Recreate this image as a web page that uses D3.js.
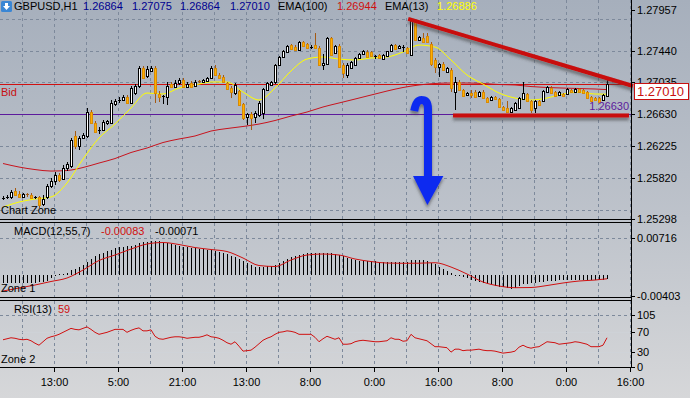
<!DOCTYPE html>
<html>
<head>
<meta charset="utf-8">
<script src="https://cdn.jsdelivr.net/npm/d3@7"></script>
<style>
  html, body { margin: 0; padding: 0; background: #c2c6cd; }
  svg { display: block; font-family: "Liberation Sans", Arial, sans-serif; }
  .crisp { shape-rendering: crispEdges; }
</style>
</head>
<body>
<div id="chart"></div>
<script>
// GBPUSD H1 candles
const open = [
  1.25552,1.25565,1.25578,1.25654,1.25616,1.25578,1.25616,1.25603,1.25565,1.25578,
  1.25489,1.25578,1.25718,1.25781,1.25857,1.25807,1.25947,1.25972,1.26354,1.26226,
  1.26328,1.26354,1.26659,1.26519,1.26417,1.26430,1.26519,1.26519,1.26761,1.26799,
  1.26812,1.26850,1.26774,1.26901,1.26990,1.27219,1.27117,1.27181,1.27219,1.26888,
  1.26850,1.26850,1.27015,1.26977,1.27028,1.27066,1.26977,1.27028,1.26990,1.27053,
  1.27041,1.27053,1.27092,1.27219,1.27130,1.27104,1.27028,1.26964,1.26901,1.26926,
  1.26761,1.26595,1.26634,1.26595,1.26621,1.26646,1.26939,1.27003,1.27041,1.27257,
  1.27359,1.27422,1.27511,1.27486,1.27448,1.27550,1.27524,1.27473,1.27511,1.27473,
  1.27257,1.27270,1.27601,1.27410,1.27499,1.27257,1.27130,1.27219,1.27257,1.27346,
  1.27397,1.27422,1.27422,1.27359,1.27384,1.27333,1.27372,1.27435,1.27511,1.27473,
  1.27473,1.27473,1.27384,1.27804,1.27575,1.27601,1.27626,1.27524,1.27321,1.27232,
  1.27270,1.27168,1.27193,1.26913,1.27041,1.26939,1.26875,1.26901,1.26913,1.26863,
  1.26913,1.26837,1.26812,1.26850,1.26824,1.26723,1.26710,1.26659,1.26684,1.26710,
  1.26824,1.26888,1.26799,1.26710,1.26799,1.26799,1.26913,1.26964,1.26913,1.26875,
  1.26888,1.26888,1.26939,1.26913,1.26952,1.26939,1.26913,1.26850,1.26837,1.26837,
  1.26812,1.26864
];
const high = [
  1.25590,1.25603,1.25667,1.25692,1.25654,1.25628,1.25628,1.25628,1.25590,1.25590,
  1.25603,1.25743,1.25819,1.25896,1.25883,1.25985,1.26023,1.26328,1.26417,1.26354,
  1.26392,1.26710,1.26684,1.26545,1.26468,1.26557,1.26557,1.26812,1.26824,1.26850,
  1.26875,1.26875,1.26990,1.27015,1.27244,1.27244,1.27244,1.27244,1.27244,1.26926,
  1.26875,1.27041,1.27041,1.27066,1.27092,1.27092,1.27041,1.27053,1.27066,1.27066,
  1.27079,1.27104,1.27244,1.27257,1.27155,1.27130,1.27041,1.26990,1.27028,1.26939,
  1.26774,1.26646,1.26659,1.26672,1.26799,1.26964,1.27041,1.27053,1.27270,1.27372,
  1.27448,1.27511,1.27524,1.27511,1.27562,1.27562,1.27537,1.27511,1.27664,1.27499,
  1.27397,1.27613,1.27613,1.27511,1.27524,1.27282,1.27282,1.27308,1.27359,1.27410,
  1.27448,1.27448,1.27435,1.27384,1.27397,1.27397,1.27435,1.27524,1.27524,1.27511,
  1.27511,1.27486,1.27855,1.27830,1.27626,1.27664,1.27664,1.27550,1.27346,1.27282,
  1.27295,1.27232,1.27219,1.27104,1.27066,1.26952,1.26913,1.26939,1.26939,1.26926,
  1.26939,1.26850,1.26863,1.26863,1.26837,1.26735,1.26799,1.26723,1.26786,1.26850,
  1.27041,1.26901,1.26812,1.26812,1.26812,1.26939,1.26990,1.26990,1.26926,1.26926,
  1.26901,1.26964,1.26952,1.26964,1.26964,1.26952,1.26926,1.26863,1.26850,1.26850,
  1.26888,1.27075
];
const low = [
  1.25539,1.25552,1.25552,1.25590,1.25565,1.25565,1.25578,1.25552,1.25552,1.25438,
  1.25463,1.25552,1.25692,1.25730,1.25768,1.25794,1.25908,1.25947,1.26188,1.26176,
  1.26316,1.26328,1.26506,1.26392,1.26379,1.26417,1.26494,1.26506,1.26735,1.26774,
  1.26799,1.26761,1.26761,1.26875,1.26964,1.27079,1.27092,1.27168,1.26774,1.26786,
  1.26761,1.26748,1.26964,1.26964,1.27003,1.26964,1.26964,1.26964,1.26977,1.27028,
  1.27028,1.27041,1.27079,1.27117,1.27079,1.27028,1.26939,1.26837,1.26875,1.26735,
  1.26557,1.26494,1.26430,1.26519,1.26595,1.26570,1.26926,1.26990,1.27015,1.27244,
  1.27346,1.27410,1.27448,1.27435,1.27435,1.27486,1.27461,1.27461,1.27461,1.27244,
  1.27193,1.27257,1.27372,1.27397,1.27219,1.27092,1.27092,1.27206,1.27244,1.27333,
  1.27384,1.27346,1.27359,1.27333,1.27333,1.27321,1.27359,1.27422,1.27448,1.27461,
  1.27422,1.27397,1.27372,1.27562,1.27562,1.27537,1.27537,1.27244,1.27155,1.27104,
  1.27181,1.27155,1.26913,1.26684,1.26926,1.26850,1.26863,1.26837,1.26837,1.26850,
  1.26824,1.26774,1.26799,1.26812,1.26710,1.26672,1.26646,1.26646,1.26672,1.26697,
  1.26812,1.26786,1.26646,1.26646,1.26735,1.26786,1.26901,1.26888,1.26850,1.26863,
  1.26850,1.26875,1.26901,1.26901,1.26901,1.26888,1.26824,1.26786,1.26799,1.26774,
  1.26799,1.26864
];
const close = [
  1.25565,1.25578,1.25641,1.25603,1.25578,1.25616,1.25603,1.25565,1.25578,1.25476,
  1.25552,1.25718,1.25781,1.25857,1.25794,1.25947,1.25997,1.26303,1.26226,1.26328,
  1.26366,1.26659,1.26519,1.26405,1.26430,1.26532,1.26545,1.26774,1.26799,1.26812,
  1.26850,1.26774,1.26964,1.26990,1.27219,1.27092,1.27206,1.27219,1.26901,1.26850,
  1.26863,1.26990,1.26977,1.27028,1.27066,1.26977,1.27015,1.26977,1.27041,1.27041,
  1.27066,1.27092,1.27219,1.27130,1.27092,1.27041,1.26952,1.26913,1.27003,1.26748,
  1.26583,1.26634,1.26583,1.26646,1.26774,1.26952,1.27028,1.27041,1.27257,1.27359,
  1.27435,1.27499,1.27461,1.27448,1.27550,1.27499,1.27473,1.27486,1.27473,1.27257,
  1.27282,1.27601,1.27384,1.27499,1.27232,1.27155,1.27257,1.27295,1.27346,1.27397,
  1.27435,1.27359,1.27372,1.27372,1.27346,1.27384,1.27435,1.27511,1.27461,1.27499,
  1.27486,1.27410,1.27830,1.27575,1.27613,1.27550,1.27550,1.27270,1.27232,1.27270,
  1.27193,1.27219,1.26964,1.27041,1.26939,1.26863,1.26901,1.26875,1.26850,1.26913,
  1.26837,1.26786,1.26850,1.26824,1.26723,1.26684,1.26659,1.26710,1.26774,1.26837,
  1.26901,1.26799,1.26684,1.26799,1.26748,1.26926,1.26977,1.26901,1.26863,1.26913,
  1.26863,1.26952,1.26913,1.26952,1.26913,1.26901,1.26837,1.26799,1.26812,1.26786,
  1.26875,1.27010
];

// indicator readings, sampled every 4 bars
const sampleIdx = [0,4,8,12,16,20,24,28,32,36,40,44,48,52,56,60,64,68,72,76,
  80,84,88,92,96,100,104,108,112,116,120,124,128,132,136,140,144,148,151];
const ema100 = [1.26004,1.25959,1.25927,1.25908,1.25915,1.25953,1.26010,1.26067,1.26144,1.26201,
  1.26271,1.26316,1.26354,1.26417,1.26449,1.26475,1.26506,1.26551,1.26608,1.26659,
  1.26723,1.26774,1.26824,1.26875,1.26926,1.26971,1.27003,1.27022,1.27028,1.27028,
  1.27022,1.27009,1.27003,1.26983,1.26971,1.26964,1.26958,1.26952,1.26944];
const ema13 = [1.25450,1.25514,1.25552,1.25578,1.25756,1.26061,1.26328,1.26506,1.26710,1.26901,
  1.26888,1.26964,1.27003,1.27041,1.27041,1.26913,1.26812,1.26964,1.27181,1.27333,
  1.27359,1.27333,1.27321,1.27346,1.27359,1.27422,1.27511,1.27486,1.27321,1.27130,
  1.27015,1.26901,1.26837,1.26812,1.26837,1.26888,1.26913,1.26888,1.26886];
const macdSignal = [-0.00307,-0.00249,-0.00191,-0.00123,-0.00056,0.00098,0.00282,0.00388,0.00503,0.00600,
  0.00629,0.00590,0.00532,0.00494,0.00455,0.00330,0.00185,0.00166,0.00291,0.00388,
  0.00407,0.00388,0.00311,0.00262,0.00233,0.00228,0.00230,0.00239,0.00156,0.00021,
  -0.00133,-0.00210,-0.00243,-0.00239,-0.00201,-0.00152,-0.00114,-0.00095,-0.00071];

// MACD main (histogram), one per bar
const macdMain = [
  -0.00152,-0.00153,-0.00154,-0.00154,-0.00152,-0.00150,-0.00148,-0.00147,-0.00145,-0.00140,
  -0.00130,-0.00110,-0.00050,0.00010,0.00020,0.00030,0.00040,0.00090,0.00120,0.00160,
  0.00200,0.00260,0.00310,0.00360,0.00400,0.00430,0.00460,0.00490,0.00520,0.00540,
  0.00550,0.00560,0.00570,0.00590,0.00610,0.00630,0.00640,0.00660,0.00660,0.00650,
  0.00630,0.00620,0.00600,0.00580,0.00560,0.00550,0.00540,0.00530,0.00520,0.00510,
  0.00500,0.00490,0.00480,0.00470,0.00450,0.00430,0.00400,0.00370,0.00340,0.00310,
  0.00270,0.00230,0.00190,0.00160,0.00150,0.00160,0.00170,0.00180,0.00200,0.00240,
  0.00280,0.00320,0.00340,0.00370,0.00390,0.00410,0.00420,0.00420,0.00430,0.00420,
  0.00420,0.00430,0.00420,0.00400,0.00390,0.00360,0.00330,0.00310,0.00290,0.00280,
  0.00280,0.00280,0.00280,0.00270,0.00260,0.00260,0.00260,0.00260,0.00260,0.00260,
  0.00260,0.00260,0.00300,0.00300,0.00290,0.00290,0.00280,0.00240,0.00210,0.00160,
  0.00120,0.00080,0.00040,0.00010,-0.00020,-0.00040,-0.00060,-0.00090,-0.00110,-0.00130,
  -0.00150,-0.00170,-0.00190,-0.00210,-0.00220,-0.00230,-0.00250,-0.00260,-0.00250,-0.00210,
  -0.00180,-0.00170,-0.00160,-0.00150,-0.00140,-0.00130,-0.00120,-0.00110,-0.00110,-0.00100,
  -0.00100,-0.00100,-0.00100,-0.00100,-0.00090,-0.00090,-0.00090,-0.00090,-0.00090,-0.00090,
  -0.00090,-0.00083
];

// RSI(13), one per bar
const rsi = [
  55,57,59,58,56,55,56,53,48,44, 51,58,61,63,66,70,74,78,76,75,
  78,81,76,70,66,68,70,73,76,76, 76,70,74,77,79,73,73,75,62,57,
  56,58,60,61,61,60,58,59,60,60, 62,65,61,60,58,54,49,46,51,42,
  32,33,34,40,47,54,58,61,66,70, 71,73,72,70,66,66,66,66,60,51,
  57,62,59,56,59,46,46,47,51,53, 54,53,52,51,51,52,53,59,56,56,
  52,53,66,59,57,55,53,47,41,41, 40,39,30,36,36,33,34,34,35,36,
  34,33,33,32,30,28,29,30,32,40, 44,40,38,40,41,46,51,50,49,46,
  47,48,49,51,50,48,46,41,41,41, 44,59
];

const timeTicks = [12.8, 28.8, 44.8, 60.8, 76.8, 92.8, 108.8, 124.8, 140.8, 156.8];
const timeLabels = ["13:00","5:00","21:00","13:00","8:00","0:00","16:00","8:00","0:00","16:00"];
const priceLabels = [1.27957, 1.27440, 1.27035, 1.26630, 1.26225, 1.25820, 1.25298];
const priceGrid = [1.27845, 1.27440, 1.27035, 1.26630, 1.26225, 1.25820, 1.25415];
const macdLabels = [0.00716, -0.00403];
const rsiLabels = [105, 70, 30, 0];

const bidPrice = 1.27010;
const levelPrice = 1.26630;
const trendLine = [[101.3, 1.27845], [157.5, 1.26990]];
const supportLine = [[112.5, 1.26615], [156.5, 1.26615]];

const W = 690, H = 398, AX = 631;

const x = d3.scaleLinear().domain([0, 157]).range([3, AX]);
const y = d3.scaleLinear().domain([1.25298, 1.27957]).range([219, 10]);
const yM = d3.scaleLinear().domain([-0.00403, 0.00716]).range([296, 238]);
const yR = d3.scaleLinear().domain([0, 105]).range([367, 315]);

const svg = d3.select("#chart").append("svg").attr("width", W).attr("height", H);
const defs = svg.append("defs");

const bg = defs.append("linearGradient").attr("id", "bg").attr("x1", 0).attr("y1", 0).attr("x2", 0).attr("y2", 1);
bg.append("stop").attr("offset", "0%").attr("stop-color", "#a6afbc");
bg.append("stop").attr("offset", "55%").attr("stop-color", "#bec3cb");
bg.append("stop").attr("offset", "100%").attr("stop-color", "#d6d7d9");

// user-space filter region so flat (horizontal) lines keep rendering
const sh = defs.append("filter").attr("id", "shadow").attr("filterUnits", "userSpaceOnUse")
  .attr("x", 0).attr("y", 0).attr("width", W).attr("height", H);
sh.append("feDropShadow").attr("dx", 0).attr("dy", 3).attr("stdDeviation", 1.6)
  .attr("flood-color", "#3a3a3a").attr("flood-opacity", 0.55);

const clips = [["clipMain", 0, 0, AX, 219], ["clipMacd", 0, 223, AX, 74], ["clipRsi", 0, 301, AX, 67]];
clips.forEach(c => {
  defs.append("clipPath").attr("id", c[0]).append("rect")
    .attr("x", c[1]).attr("y", c[2]).attr("width", c[3]).attr("height", c[4]);
});

svg.append("rect").attr("width", W).attr("height", H).attr("fill", "url(#bg)");

// grid
const gridCol = "#7d899b";
const grid = svg.append("g").attr("stroke", gridCol).attr("stroke-dasharray", "3,3").attr("class", "crisp");
d3.range(4.8, 157, 8).forEach(i => {
  const gx = Math.round(x(i)) + 0.5;
  [[0, 219], [223, 297], [301, 368]].forEach(r => {
    grid.append("line").attr("x1", gx).attr("x2", gx).attr("y1", r[0]).attr("y2", r[1]);
  });
});
priceGrid.forEach(p => {
  const gy = Math.round(y(p)) + 0.5;
  grid.append("line").attr("x1", 0).attr("x2", AX).attr("y1", gy).attr("y2", gy);
});
grid.append("line").attr("x1", 0).attr("x2", AX).attr("y1", Math.round(yM(macdLabels[0])) + 0.5).attr("y2", Math.round(yM(macdLabels[0])) + 0.5);
grid.append("line").attr("x1", 0).attr("x2", AX).attr("y1", Math.round(yR(105)) + 0.5).attr("y2", Math.round(yR(105)) + 0.5);
[70, 30].forEach(v => {
  svg.append("line").attr("class", "crisp").attr("x1", 0).attr("x2", AX)
    .attr("y1", Math.round(yR(v)) + 0.5).attr("y2", Math.round(yR(v)) + 0.5)
    .attr("stroke", "#cfd3d9").attr("stroke-opacity", 0.7);
});

// ---- main panel ----
const main = svg.append("g").attr("clip-path", "url(#clipMain)");

main.append("line").attr("class", "crisp").attr("x1", 0).attr("x2", AX)
  .attr("y1", Math.round(y(levelPrice)) + 0.5).attr("y2", Math.round(y(levelPrice)) + 0.5)
  .attr("stroke", "#5c1a9c");
main.append("line").attr("class", "crisp").attr("x1", 0).attr("x2", AX)
  .attr("y1", Math.round(y(bidPrice)) + 0.5).attr("y2", Math.round(y(bidPrice)) + 0.5)
  .attr("stroke", "#d01010");

const emaLine = d3.line().x(d => x(d[0])).y(d => y(d[1])).curve(d3.curveMonotoneX);
main.append("path").datum(sampleIdx.map((i, k) => [i, ema100[k]]))
  .attr("d", emaLine).attr("fill", "none").attr("stroke", "#c8141e").attr("stroke-width", 1);
main.append("path").datum(sampleIdx.map((i, k) => [i, ema13[k]]))
  .attr("d", emaLine).attr("fill", "none").attr("stroke", "#ffff00").attr("stroke-width", 1);

const cg = main.append("g").attr("class", "crisp");
close.forEach((c, i) => {
  const o = open[i], up = c >= o;
  const cx = Math.round(x(i));
  const edge = up ? "#000000" : "#a55a12";
  const yh = Math.round(y(high[i])), yl = Math.round(y(low[i]));
  cg.append("rect").attr("x", cx).attr("y", yh).attr("width", 1).attr("height", Math.max(1, yl - yh)).attr("fill", edge);
  const yt = Math.round(y(Math.max(o, c))), yb = Math.round(y(Math.min(o, c)));
  const bh = yb - yt;
  if (bh <= 1) {
    cg.append("rect").attr("x", cx - 1).attr("y", yt).attr("width", 3).attr("height", 1).attr("fill", edge);
  } else {
    cg.append("rect").attr("x", cx - 1).attr("y", yt).attr("width", 3).attr("height", bh + 1).attr("fill", up ? "#000" : "#d88a06");
    cg.append("rect").attr("x", cx).attr("y", yt + 1).attr("width", 1).attr("height", bh - 1).attr("fill", up ? "#ffffff" : "#ffb000");
  }
});

// drawn objects: trend lines and arrow
const objLine = d3.line().x(d => x(d[0])).y(d => y(d[1]));
svg.append("path").datum(trendLine).attr("d", objLine).attr("stroke", "#c80a0a")
  .attr("stroke-width", 4).attr("fill", "none").attr("filter", "url(#shadow)");
svg.append("path").datum(supportLine).attr("d", objLine).attr("stroke", "#c80a0a")
  .attr("stroke-width", 4).attr("fill", "none").attr("filter", "url(#shadow)");

const ax = x(106.25);
const arrowPath = `M${x(102.8)},${y(1.26672)} Q${x(103.3)},${y(1.26812)} ${x(104.6)},${y(1.26812)}`
  + ` Q${ax},${y(1.26812)} ${ax},${y(1.26697)} L${ax},${y(1.25845)}`;
const arrow = svg.append("g").attr("filter", "url(#shadow)");
arrow.append("path").attr("d", arrowPath).attr("fill", "none").attr("stroke", "#0a2cf0").attr("stroke-width", 8);
arrow.append("path")
  .attr("d", `M${x(102.5)},${y(1.25845)} L${x(110.1)},${y(1.25845)} L${x(106.1)},${y(1.25476)} Z`)
  .attr("fill", "#0a2cf0");

// ---- MACD panel ----
const mg = svg.append("g").attr("clip-path", "url(#clipMacd)");
const m0 = Math.round(yM(0));
const mb = mg.append("g").attr("class", "crisp");
macdMain.forEach((v, i) => {
  const cx = Math.round(x(i)), yv = Math.round(yM(v));
  mb.append("rect").attr("x", cx).attr("y", Math.min(m0, yv)).attr("width", 1)
    .attr("height", Math.max(1, Math.abs(yv - m0))).attr("fill", "#000");
});
mg.append("path").datum(sampleIdx.map((i, k) => [i, macdSignal[k]]))
  .attr("d", d3.line().x(d => x(d[0])).y(d => yM(d[1])).curve(d3.curveMonotoneX))
  .attr("fill", "none").attr("stroke", "#d01010").attr("stroke-width", 1);

// ---- RSI panel ----
const rg = svg.append("g").attr("clip-path", "url(#clipRsi)");
rg.append("path").datum(rsi)
  .attr("d", d3.line().x((d, i) => x(i)).y(d => yR(d)))
  .attr("fill", "none").attr("stroke", "#d01010").attr("stroke-width", 1);

// ---- frames ----
const fr = svg.append("g").attr("stroke", "#000").attr("class", "crisp");
[219.5, 222.5, 297.5, 300.5, 367.5].forEach(ly => {
  fr.append("line").attr("x1", 0).attr("x2", AX).attr("y1", ly).attr("y2", ly);
});
fr.append("line").attr("x1", AX + 0.5).attr("x2", AX + 0.5).attr("y1", 0).attr("y2", 368);

// ---- right axis labels ----
const lab = svg.append("g").attr("font-size", 11).attr("fill", "#000");
function axisLabel(yy, txt, col) {
  fr.append("line").attr("x1", AX).attr("x2", AX + 4).attr("y1", Math.round(yy) + 0.5).attr("y2", Math.round(yy) + 0.5);
  lab.append("text").attr("x", AX + 6).attr("y", yy + 4).attr("fill", col || "#000").text(txt);
}
priceLabels.forEach(p => axisLabel(y(p), p.toFixed(5)));
macdLabels.forEach(v => axisLabel(yM(v), v.toFixed(5)));
rsiLabels.forEach(v => axisLabel(yR(v), String(v)));

// bid box (covers the lower half of the 1.27035 label, as in the terminal)
const by = y(bidPrice);
svg.append("rect").attr("class", "crisp").attr("x", 634.5).attr("y", Math.round(by) - 0.5)
  .attr("width", 54).attr("height", 16).attr("fill", "#ffffff").attr("stroke", "#c81010");
svg.append("text").attr("x", 637).attr("y", by + 12).attr("font-size", 13).attr("fill", "#c81010").text(bidPrice.toFixed(5));

// level label
svg.append("text").attr("x", AX - 2).attr("y", y(levelPrice) - 4).attr("text-anchor", "end")
  .attr("font-size", 11).attr("fill", "#5c1a9c").text(levelPrice.toFixed(5));

// ---- time axis ----
timeTicks.forEach((t, k) => {
  const tx = Math.round(x(t)) + 0.5;
  fr.append("line").attr("x1", tx).attr("x2", tx).attr("y1", 368).attr("y2", 372);
  lab.append("text").attr("x", tx).attr("y", 386).attr("text-anchor", "middle").text(timeLabels[k]);
});

// ---- header & panel captions ----
const hdr = svg.append("g").attr("font-size", 11);
const icon = hdr.append("g");
icon.append("rect").attr("x", 1).attr("y", 1).attr("width", 11).attr("height", 11).attr("rx", 1.5).attr("fill", "#3a86d4");
icon.append("path").attr("d", "M5,3 h3 v3 h2 l-3.5,4 l-3.5,-4 h2 z").attr("fill", "#ffffff");
const headerItems = [
  [14, "GBPUSD,H1", "#000"],
  [83, open[open.length - 1].toFixed(5), "#000090"],
  [132, high[high.length - 1].toFixed(5), "#000090"],
  [180, low[low.length - 1].toFixed(5), "#000090"],
  [230, close[close.length - 1].toFixed(5), "#000090"],
  [278, "EMA(100)", "#000"],
  [337, ema100[ema100.length - 1].toFixed(5), "#d01010"],
  [385, "EMA(13)", "#000"],
  [437, ema13[ema13.length - 1].toFixed(5), "#ffff00"]
];
headerItems.forEach(h => hdr.append("text").attr("x", h[0]).attr("y", 10).attr("fill", h[2]).text(h[1]));

const cap = svg.append("g").attr("font-size", 11);
cap.append("text").attr("x", 1).attr("y", 96).attr("fill", "#c81010").text("Bid");
cap.append("text").attr("x", 1).attr("y", 214).attr("fill", "#000").text("Chart Zone");
cap.append("text").attr("x", 14).attr("y", 235).attr("fill", "#000").text("MACD(12,55,7)");
cap.append("text").attr("x", 101).attr("y", 235).attr("fill", "#d01010").text(macdMain[macdMain.length - 1].toFixed(5));
cap.append("text").attr("x", 155).attr("y", 235).attr("fill", "#000").text(macdSignal[macdSignal.length - 1].toFixed(5));
cap.append("text").attr("x", 1).attr("y", 292).attr("fill", "#000").text("Zone 1");
cap.append("text").attr("x", 14).attr("y", 313).attr("fill", "#000").text("RSI(13)");
cap.append("text").attr("x", 58).attr("y", 313).attr("fill", "#d01010").text(String(rsi[rsi.length - 1]));
cap.append("text").attr("x", 1).attr("y", 363).attr("fill", "#000").text("Zone 2");
</script>
</body>
</html>
